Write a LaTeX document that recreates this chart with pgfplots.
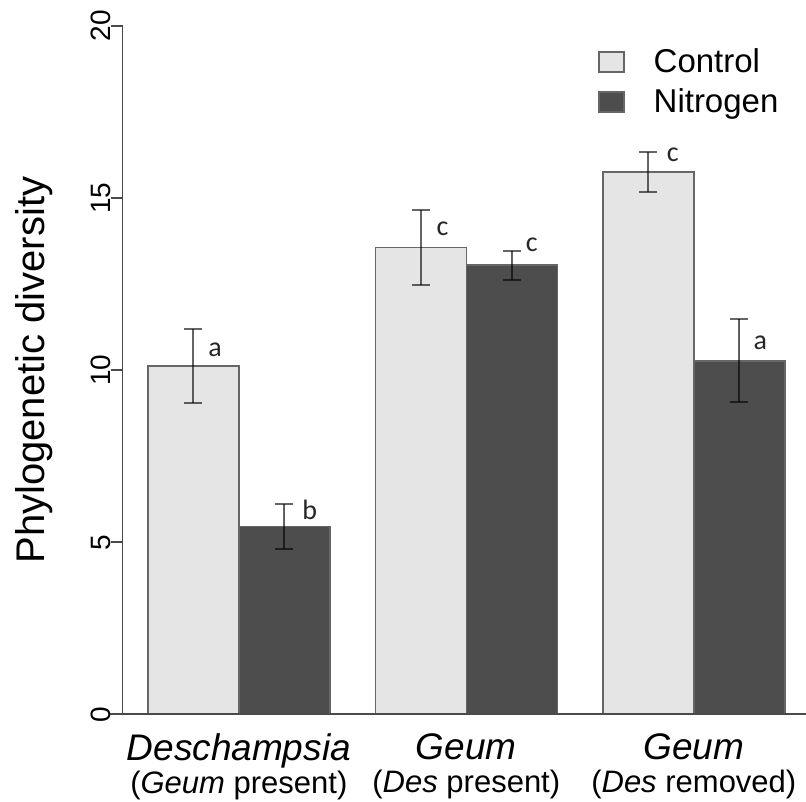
\documentclass[border=0pt]{standalone}
\usepackage{fontspec}
\setmainfont{Liberation Sans}
\newfontfamily\letterfont{Carlito}
\usepackage{pgfplots}
\pgfplotsset{compat=1.18}
\definecolor{ctrl}{HTML}{E5E5E5}
\definecolor{nitro}{HTML}{4D4D4D}
\definecolor{edge}{HTML}{666666}
\definecolor{axisgray}{HTML}{4A4A4A}
\pgfplotsset{
  mybar/.style={ybar, bar width=1, bar shift=0, draw=edge, line width=1.5pt,
    error bars/.cd, y dir=both, y explicit,
    error bar style={line width=2pt, draw=black, draw opacity=0.6},
    error mark options={rotate=90, mark size=9pt, line width=2pt, draw=black, draw opacity=0.6}},
}
\begin{document}
\begin{tikzpicture}
\begin{axis}[
  scale only axis, width=683.3pt, height=688.3pt,
  xmin=-0.776, xmax=6.733, ymin=0, ymax=20,
  clip=false,
  axis y line*=left, axis x line*=bottom,
  x axis line style={draw=none},
  y axis line style={axisgray, line width=1.6pt},
  ytick={0,5,10,15,20},
  tick align=outside, major tick length=12pt,
  ytick style={axisgray, line width=1.6pt},
  /pgf/number format/assume math mode=true,
  yticklabel style={rotate=90, anchor=south, inner sep=0pt, font=\fontsize{28}{28}\selectfont},
  xtick={0.5,3,5.5},
  x tick style={draw=none},
  xticklabels={
    {\fontsize{37}{33}\selectfont\textit{Deschampsia}\\\fontsize{31}{33}\selectfont(\textit{Geum} present)},
    {\fontsize{37}{33}\selectfont\textit{Geum}\\\fontsize{31}{33}\selectfont(\textit{Des} present)},
    {\fontsize{37}{33}\selectfont\textit{Geum}\\\fontsize{31}{33}\selectfont(\textit{Des} removed)}},
  xticklabel style={align=center, anchor=north, inner sep=0pt, yshift=-7pt, font=\fontsize{31}{33}\selectfont},
  ylabel={Phylogenetic diversity},
  ylabel style={font=\fontsize{40}{40}\selectfont, at={(axis description cs:0,0.5)}, anchor=south, inner sep=0pt, yshift=69.7pt},
  legend style={at={(axis cs:4.447,19.36)}, anchor=north west, draw=none, fill=none,
    font=\fontsize{33}{33}\selectfont, row sep=8pt, inner sep=0pt,
    nodes={inner sep=0pt, text height=24pt, text depth=8pt}},
  legend cell align=left,
  /tikz/every odd column/.append style={column sep=29pt},
  legend image code/.code={\draw[#1, line width=1.5pt] (0pt,-8pt) rectangle (25pt,12pt);},
]
\coordinate (O) at (rel axis cs:0,0);
\addplot[fill=ctrl, mybar]
  coordinates {(0,10.12) +- (0,1.08) (2.5,13.57) +- (0,1.09) (5,15.76) +- (0,0.585)};
\addlegendentry{Control}
\addplot[fill=nitro, mybar]
  coordinates {(1,5.45) +- (0,0.66) (3.5,13.05) +- (0,0.42) (6,10.27) +- (0,1.21)};
\addlegendentry{Nitrogen}
\addplot[axisgray, line width=1.6pt, forget plot] coordinates {(-0.915,0) (6.733,0)};
\node[font=\letterfont\fontsize{28}{28}\selectfont, text=black!85] at (axis cs:0.24,10.59) {a};
\node[font=\letterfont\fontsize{28}{28}\selectfont, text=black!85] at (axis cs:1.28,5.94) {b};
\node[font=\letterfont\fontsize{28}{28}\selectfont, text=black!85] at (axis cs:2.74,14.11) {c};
\node[font=\letterfont\fontsize{28}{28}\selectfont, text=black!85] at (axis cs:3.72,13.64) {c};
\node[font=\letterfont\fontsize{28}{28}\selectfont, text=black!85] at (axis cs:5.27,16.26) {c};
\node[font=\letterfont\fontsize{28}{28}\selectfont, text=black!85] at (axis cs:6.23,10.79) {a};
\end{axis}
\pgfresetboundingbox
\path (O) ++(-122.7pt,-87.7pt) rectangle ++(806pt,802pt);
\end{tikzpicture}
\end{document}
